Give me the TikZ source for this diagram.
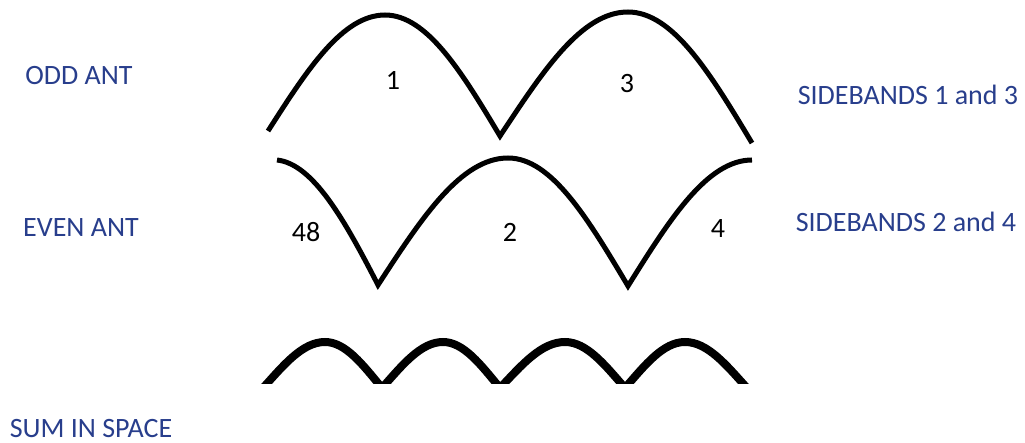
\documentclass[tikz,border=0pt]{standalone}
\usepackage{fontspec}
\setmainfont{Carlito}
\usepackage{tikz}
\usetikzlibrary{positioning}

\definecolor{labelblue}{RGB}{40,62,140}

\begin{document}
\begin{tikzpicture}[
  x=1pt, y=-1pt,
  label/.style={font=\fontsize{28}{30}\selectfont, text=labelblue,
    anchor=base, inner sep=0pt},
  num/.style={font=\fontsize{28}{30}\selectfont, anchor=base, inner sep=0pt},
  wave/.style={line width=5pt, line join=miter},
  sumwave/.style={line width=8pt},
]
  \useasboundingbox (0,0) rectangle (1025,443);

  % left labels
  \node[label] (lblodd)  at (79,85)  {ODD ANT};
  \node[label] (lbleven) at (81,237) {EVEN ANT};
  \node[label] (lblsum)  at (91,437) {SUM IN SPACE};

  % right labels
  \node[label] (sbodd)  at (908,105) {SIDEBANDS 1 and 3};
  \node[label] (sbeven) at (906,232) {SIDEBANDS 2 and 4};

  % lobe numbers
  \node[num] (n1)  at (393,90)  {1};
  \node[num] (n3)  at (627,93)  {3};
  \node[num] (n48) at (306,242) {48};
  \node[num] (n2)  at (510,242) {2};
  \node[num] (n4)  at (718,238) {4};

  % odd antenna pattern
  \draw[wave] (268,131)
    .. controls (307,70)  and (342.5,15) .. (385,15)
    .. controls (427,15)  and (462,72.5) .. (500,136)
    .. controls (543,71)  and (581.5,12) .. (628,12)
    .. controls (673,12)  and (710.6,74) .. (752,143);

  % even antenna pattern
  \draw[wave] (277,160)
    .. controls (313,164)   and (344.3,219.4) .. (378,285)
    .. controls (421.4,218.3) and (460.8,158) .. (508,158)
    .. controls (551.6,158) and (587.9,218.8) .. (628,286)
    .. controls (669.4,219.8) and (707,160)   .. (752,160);

  % sum in space
  \begin{scope}
    \clip (250,300) rectangle (770,383.5);
    \foreach \a/\p/\b in {263/325/382, 382/443/500, 500/565/625, 625/685/747}
      \draw[sumwave] (\a,388)
        .. controls ({\a+0.334*(\p-\a)},365) and ({\a+0.637*(\p-\a)},342) .. (\p,342)
        .. controls ({\p+0.363*(\b-\p)},342) and ({\p+0.666*(\b-\p)},365) .. (\b,388);
  \end{scope}
\end{tikzpicture}
\end{document}
